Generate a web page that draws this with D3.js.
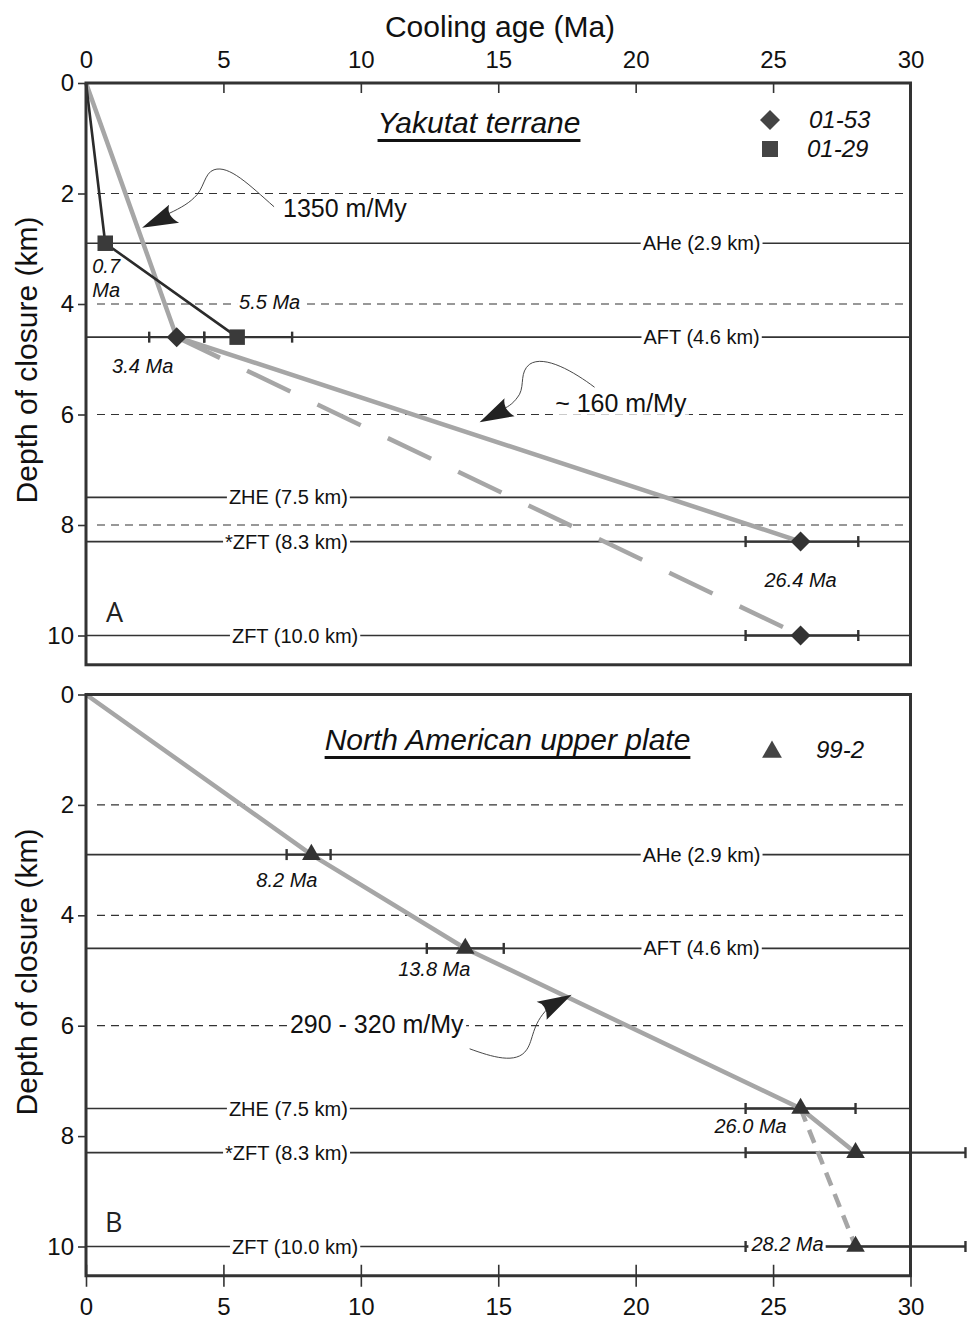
<!DOCTYPE html>
<meta charset="utf-8">
<style>
body { margin: 0; background: #fff; }
svg { font-family: "Liberation Sans", Arial, sans-serif; }
.frame { fill: none; stroke: #333; stroke-width: 3; }
.zone { stroke: #333; stroke-width: 1.6; }
.grid { stroke: #333; stroke-width: 1.2; stroke-dasharray: 8 6; }
.err { stroke: #333; stroke-width: 2.4; }
.gray { fill: none; stroke: #a6a6a6; stroke-width: 4.5; }
.black { fill: none; stroke: #2b2b2b; stroke-width: 2.6; }
.axis text { font-size: 24px; fill: #111; font-family: "Liberation Sans", Arial, sans-serif; }
.axis line { stroke: #333; stroke-width: 1.6; }
.axis path { display: none; }
.age { font-size: 20px; font-style: italic; fill: #111; }
.zlabel { font-size: 20px; fill: #111; }
.rate { font-size: 25px; fill: #111; }
.title { font-size: 30px; font-style: italic; fill: #111; }
.legend { font-size: 24px; font-style: italic; fill: #111; }
.letter { font-family: "Open Sans", sans-serif; font-size: 27px; fill: #222; }
.axtitle { font-size: 30px; fill: #111; }
.curve { fill: none; stroke: #333; stroke-width: 0.9; }
.head { fill: #222; }
</style>
<svg width="968" height="1319"></svg>
<script src="https://cdn.jsdelivr.net/npm/d3@7"></script>
<script>

// axis ticks
var xTicks = [0, 5, 10, 15, 20, 25, 30];
var yTicks = [0, 2, 4, 6, 8, 10];

// closure depths of the thermochronometers
var zoneNames = ["AHe (2.9 km)", "AFT (4.6 km)", "ZHE (7.5 km)", "*ZFT (8.3 km)", "ZFT (10.0 km)"];
var zoneDepths = [2.9, 4.6, 7.5, 8.3, 10.0];
var gridA = [2, 4, 6, 8];
var gridB = [2, 4, 6];

// sample 01-53 (Yakutat terrane)
var ages0153 = [3.3, 26.0, 26.0];
var depths0153 = [4.6, 8.3, 10.0];
var errLo0153 = [2.3, 24.0, 24.0];
var errHi0153 = [4.3, 28.1, 28.1];
var labels0153 = ["3.4 Ma", "26.4 Ma", null];

// sample 01-29 (Yakutat terrane)
var ages0129 = [0.7, 5.5];
var depths0129 = [2.9, 4.6];
var errLo0129 = [null, 4.3];
var errHi0129 = [null, 7.5];
var labels0129 = ["0.7|Ma", "5.5 Ma"];

// sample 99-2 (North American upper plate)
var ages992 = [8.2, 13.8, 26.0, 28.0, 28.0];
var depths992 = [2.9, 4.6, 7.5, 8.3, 10.0];
var errLo992 = [7.3, 12.4, 24.0, 24.0, 24.0];
var errHi992 = [8.9, 15.2, 28.0, 32.0, 32.0];
var labels992 = ["8.2 Ma", "13.8 Ma", "26.0 Ma", null, "28.2 Ma"];

var svg = d3.select("svg");

var x = d3.scaleLinear().domain([0, 30]).range([86, 910.5]);
var yA = d3.scaleLinear().domain([0, 10]).range([83, 635.5]);
var yB = d3.scaleLinear().domain([0, 10]).range([694.5, 1246.5]);
var yMax = 10.53;

function pts(ages, depths, idx, withOrigin) {
  var p = withOrigin ? [[0, 0]] : [];
  idx.forEach(function(i) { p.push([ages[i], depths[i]]); });
  return p;
}

function boxed(g, txt, px, py, cls, anchor) {
  var t = g.append("text").attr("class", cls)
      .attr("x", px).attr("y", py)
      .attr("text-anchor", anchor || "start")
      .text(txt);
  var b = t.node().getBBox();
  g.insert("rect", function() { return t.node(); })
      .attr("x", b.x - 2).attr("y", b.y + 2)
      .attr("width", b.width + 4).attr("height", b.height - 4)
      .attr("fill", "#fff");
  return t;
}

function panel(y, grid) {
  var g = svg.append("g");
  g.selectAll(null).data(grid).enter().append("line")
      .attr("class", "grid")
      .attr("x1", x(0) + 11).attr("x2", x(30) - 4)
      .attr("y1", y).attr("y2", y);
  g.selectAll(null).data(zoneDepths).enter().append("line")
      .attr("class", "zone")
      .attr("x1", x(0)).attr("x2", x(30))
      .attr("y1", y).attr("y2", y);
  return g;
}

function errorBars(g, y, ages, depths, lo, hi) {
  depths.forEach(function(d, i) {
    if (lo[i] == null) return;
    g.append("line").attr("class", "err")
        .attr("x1", x(lo[i])).attr("x2", x(hi[i]))
        .attr("y1", y(d)).attr("y2", y(d));
    [lo[i], hi[i]].forEach(function(v) {
      g.append("line").attr("class", "err").attr("stroke-width", 1.8)
          .attr("x1", x(v)).attr("x2", x(v))
          .attr("y1", y(d) - 5.5).attr("y2", y(d) + 5.5);
    });
  });
}

function zoneLabels(g, y) {
  // label placement along each line (in Ma)
  var lx = [22.4, 22.4, 5.2, 5.06, 5.31];
  var anc = ["middle", "middle", "start", "start", "start"];
  zoneNames.forEach(function(n, i) {
    boxed(g, n, x(lx[i]), y(zoneDepths[i]) + 7, "zlabel", anc[i]);
  });
}

function markers(g, y, ages, depths, type, size, rot, fill) {
  g.selectAll(null).data(ages).enter().append("path")
      .attr("d", d3.symbol().type(type).size(size))
      .attr("fill", fill)
      .attr("transform", function(a, i) {
        return "translate(" + x(a) + "," + y(depths[i]) + ") rotate(" + rot + ")";
      });
}

function ageLabels(g, y, ages, depths, labels, offs) {
  labels.forEach(function(l, i) {
    if (!l) return;
    var px = x(ages[i]) + offs[i][0], py = y(depths[i]) + offs[i][1];
    var parts = l.split("|");
    if (parts.length > 1) {
      parts.forEach(function(p, k) {
        g.append("text").attr("class", "age").attr("x", px).attr("y", py + k * 24).text(p);
      });
    } else {
      boxed(g, l, px, py, "age", "middle");
    }
  });
}

function frame(y) {
  svg.append("rect").attr("class", "frame")
      .attr("x", x(0)).attr("y", y(0))
      .attr("width", x(30) - x(0)).attr("height", y(yMax) - y(0));
  svg.append("g").attr("class", "axis")
      .attr("transform", "translate(" + x(0) + ",0)")
      .call(d3.axisLeft(y).tickValues(yTicks).tickSize(8).tickPadding(4));
}

function arrow(g, tx, ty, curve, head) {
  var a = g.append("g").attr("transform", "translate(" + tx + "," + ty + ")");
  a.append("path").attr("class", "curve").attr("d", curve);
  a.append("path").attr("class", "head").attr("d", head);
}

var line = d3.line().x(function(d) { return x(d[0]); });

// ---------------- panel A ----------------
var gA = panel(yA, gridA);

errorBars(gA, yA, ages0153, depths0153, errLo0153, errHi0153);
errorBars(gA, yA, ages0129, depths0129, errLo0129, errHi0129);
zoneLabels(gA, yA);

line.y(function(d) { return yA(d[1]); });
gA.append("path").attr("class", "gray").attr("d", line(pts(ages0153, depths0153, [0, 1], true)));
gA.append("path").attr("class", "gray").attr("stroke-dasharray", "48 30")
    .attr("d", line(pts(ages0153, depths0153, [0, 2], false)));
gA.append("path").attr("class", "black").attr("d", line(pts(ages0129, depths0129, [0, 1], true)));

markers(gA, yA, ages0153, depths0153, d3.symbolSquare, 200, 45, "#333");
markers(gA, yA, ages0129, depths0129, d3.symbolSquare, 240, 0, "#3a3a3a");

ageLabels(gA, yA, ages0153, depths0153, labels0153, [[-34, 36], [0, 45], [0, 0]]);
ageLabels(gA, yA, ages0129, depths0129, labels0129, [[-13, 30], [32.5, -28]]);

arrow(gA, x(2.04), yA(2.62),
  "M132,-21 C107,-43 87,-63 72,-58 C62,-55 62,-38 52,-30 C45,-23 35,-18 22,-12",
  "M0,0 L27,-23 Q24,-12 37,-5 Z");
gA.append("text").attr("class", "rate").attr("x", x(7.17)).attr("y", yA(2.43)).text("1350 m/My");

arrow(gA, x(14.32), yA(6.14),
  "M115,-35 C95,-50 65,-68 50,-58 C40,-50 45,-38 40,-28 C35,-20 30,-16 23,-13",
  "M0,0 L25,-24 Q23,-13 35,-6 Z");
boxed(gA, "~ 160 m/My", x(17.07), yA(5.95), "rate", "start");

// title and legend A
var tA = gA.append("text").attr("class", "title").attr("x", 479).attr("y", 133)
    .attr("text-anchor", "middle").text("Yakutat terrane");
var bA = tA.node().getBBox();
gA.append("rect").attr("x", bA.x).attr("y", 139).attr("width", bA.width).attr("height", 3).attr("fill", "#111");

gA.append("path").attr("d", d3.symbol().type(d3.symbolSquare).size(200)())
    .attr("fill", "#444").attr("transform", "translate(770,120) rotate(45)");
gA.append("text").attr("class", "legend").attr("x", 809).attr("y", 128).text("01-53");
gA.append("path").attr("d", d3.symbol().type(d3.symbolSquare).size(256)())
    .attr("fill", "#444").attr("transform", "translate(770,149)");
gA.append("text").attr("class", "legend").attr("x", 807).attr("y", 157).text("01-29");

gA.append("text").attr("class", "letter").attr("x", 106).attr("y", 622).text("A");

frame(yA);
svg.append("g").attr("class", "axis")
    .attr("transform", "translate(0," + yA(0) + ")")
    .call(d3.axisTop(x).tickValues(xTicks).tickSize(-10).tickPadding(15));

// ---------------- panel B ----------------
var gB = panel(yB, gridB);

errorBars(gB, yB, ages992, depths992, errLo992, errHi992);
zoneLabels(gB, yB);

line.y(function(d) { return yB(d[1]); });
gB.append("path").attr("class", "gray").attr("d", line(pts(ages992, depths992, [0, 1, 2, 3], true)));
gB.append("path").attr("class", "gray").attr("stroke", "#bdbdbd").attr("stroke-dasharray", "14 9")
    .attr("d", line(pts(ages992, depths992, [2, 4], false)));

markers(gB, yB, ages992, depths992, d3.symbolTriangle, 150, 0, "#333");

ageLabels(gB, yB, ages992, depths992, labels992, [[-24.5, 32], [-31, 28], [-50, 24.5], [0, 0], [-68, 4.5]]);

arrow(gB, x(17.67), yB(5.44),
  "M-102,54 C-80,62 -55,70 -45,55 C-38,45 -40,30 -24,14",
  "M0,0 L-35,7 Q-24,10 -25,25 Z");
boxed(gB, "290 - 320 m/My", x(7.42), yB(6.13), "rate", "start");

var tB = gB.append("text").attr("class", "title").attr("x", 507.5).attr("y", 750)
    .attr("text-anchor", "middle").text("North American upper plate");
var bB = tB.node().getBBox();
gB.append("rect").attr("x", bB.x).attr("y", 756).attr("width", bB.width).attr("height", 3).attr("fill", "#111");

gB.append("path").attr("d", d3.symbol().type(d3.symbolTriangle).size(170)())
    .attr("fill", "#444").attr("transform", "translate(772,752)");
gB.append("text").attr("class", "legend").attr("x", 816).attr("y", 758).text("99-2");

gB.append("text").attr("class", "letter").attr("x", 105).attr("y", 1232).text("B");

frame(yB);
var bot = svg.append("g").attr("class", "axis")
    .attr("transform", "translate(0," + yB(yMax) + ")")
    .call(d3.axisBottom(x).tickValues(xTicks).tickSize(11).tickPadding(11));
bot.selectAll(".tick line").attr("y1", -11);

// axis titles
svg.append("text").attr("class", "axtitle").attr("x", 500).attr("y", 37)
    .attr("text-anchor", "middle").text("Cooling age (Ma)");
[[yA, 360], [yB, 972]].forEach(function(p) {
  svg.append("text").attr("class", "axtitle")
      .attr("text-anchor", "middle")
      .attr("transform", "translate(37," + p[1] + ") rotate(-90)")
      .text("Depth of closure (km)");
});

</script>
